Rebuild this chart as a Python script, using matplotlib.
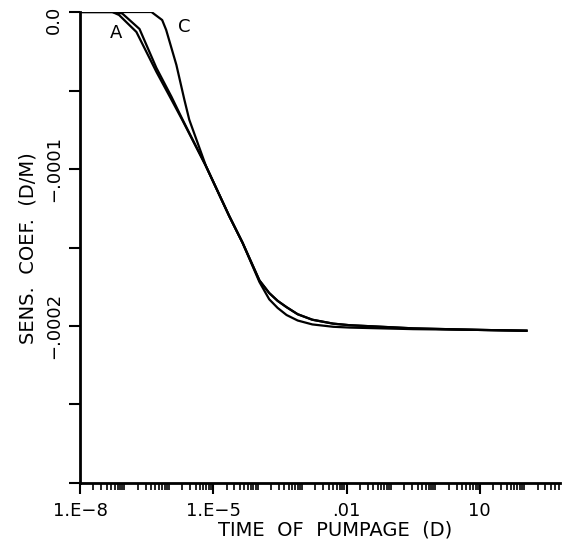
import numpy as np
import matplotlib
matplotlib.use("Agg")
import matplotlib.pyplot as plt
import matplotlib.transforms as mtransforms
from matplotlib.ticker import FixedLocator, LogLocator, NullFormatter, MultipleLocator

plt.rcParams['font.family'] = ['DejaVu Sans']

# ---- data (log10 of time in days, sensitivity coefficient in D/M) ----
a_logt = [-7.95, -7.27, -7.12, -6.73, -6.28, -5.94, -5.70, -5.16, -4.64, -4.34,
          -3.96, -3.74, -3.55, -3.35, -3.1, -2.77, -2.3, -1.93, -0.5, 1.0, 2.05]
a_sens = [0.0, 0.0, -1.9e-6, -1.27e-5, -3.81e-5, -5.59e-5, -6.86e-5, -9.84e-5, -1.30e-4, -1.47e-4,
          -1.72e-4, -1.83e-4, -1.885e-4, -1.93e-4, -1.965e-4, -1.99e-4, -2.005e-4, -2.01e-4,
          -2.02e-4, -2.025e-4, -2.03e-4]

b_logt = [-7.95, -7.27, -7.05, -6.66, -6.28, -5.94, -5.70, -5.16, -4.64, -4.34,
          -3.96, -3.74, -3.55, -3.35, -3.1, -2.77, -2.3, -1.93, -0.5, 1.0, 2.05]
b_sens = [0.0, 0.0, -0.9e-6, -1.08e-5, -3.56e-5, -5.4e-5, -6.8e-5, -9.84e-5, -1.30e-4, -1.47e-4,
          -1.71e-4, -1.79e-4, -1.84e-4, -1.88e-4, -1.925e-4, -1.96e-4, -1.985e-4, -1.995e-4,
          -2.015e-4, -2.025e-4, -2.03e-4]

c_logt = [-7.95, -6.39, -6.15, -6.06, -5.83, -5.65, -5.54, -5.16, -4.64, -4.34,
          -3.96, -3.74, -3.55, -3.35, -3.1, -2.77, -2.3, -1.93, -0.5, 1.0, 2.05]
c_sens = [0.0, 0.0, -5.1e-6, -1.14e-5, -3.37e-5, -5.59e-5, -6.86e-5, -9.84e-5, -1.30e-4, -1.47e-4,
          -1.71e-4, -1.79e-4, -1.84e-4, -1.88e-4, -1.925e-4, -1.96e-4, -1.985e-4, -1.995e-4,
          -2.015e-4, -2.025e-4, -2.03e-4]

x_ticks = [1e-8, 1e-5, 1e-2, 1e1]
x_ticklabels = ["1.E\u22128", "1.E\u22125", ".01", "10"]
y_ticks = [0.0, -1e-4, -2e-4]
y_ticklabels = ["0.0", "\u2212.0001", "\u2212.0002"]

fig = plt.figure(figsize=(5.66, 5.46), dpi=100)
ax = fig.add_axes([0.1413, 0.1154, 0.989 - 0.1413, 0.978 - 0.1154])

for lt, s in ((a_logt, a_sens), (b_logt, b_sens), (c_logt, c_sens)):
    ax.plot(10.0 ** np.array(lt), s, color='black', lw=1.6, solid_joinstyle='round')

ax.set_xscale('log')
ax.set_xlim(1e-8, 10 ** 2.8)
ax.set_ylim(-3e-4, 0.0)

ax.spines['top'].set_visible(False)
ax.spines['right'].set_visible(False)
ax.spines['left'].set_linewidth(2)
ax.spines['bottom'].set_linewidth(2)

ax.xaxis.set_major_locator(FixedLocator(x_ticks))
ax.set_xticklabels(x_ticklabels, fontsize=13)
ax.xaxis.set_minor_locator(LogLocator(base=10, subs=np.arange(1, 10), numticks=100))
ax.xaxis.set_minor_formatter(NullFormatter())
ax.tick_params(axis='x', which='major', length=8, width=1.5, pad=6)
ax.tick_params(axis='x', which='minor', length=5, width=1.2)

ax.yaxis.set_major_locator(FixedLocator(y_ticks))
ax.set_yticklabels(y_ticklabels, fontsize=13, rotation=90, va='center')
ax.yaxis.set_minor_locator(MultipleLocator(5e-5))
ax.tick_params(axis='y', which='major', length=8, width=1.5, pad=4)
ax.tick_params(axis='y', which='minor', length=8, width=1.5)

# shift the "0.0" label down a little so it sits inside the figure, as in the reference
first = ax.get_yticklabels()[0]
first.set_transform(first.get_transform() +
                    mtransforms.ScaledTranslation(0, -8 / 100, fig.dpi_scale_trans))

ax.set_xlabel("TIME  OF  PUMPAGE  (D)", fontsize=14, va='center')
ax.xaxis.set_label_coords((335 - 80) / 480, ((546 - 530) - 63) / 471)
ax.set_ylabel("SENS.  COEF.  (D/M)", fontsize=14, va='center')
ax.yaxis.set_label_coords((28 - 80) / 480, (483 - 248) / 471)

ax.text(1e-8 * 10 ** ((117 - 80.7) / 44.4), -(33 - 12) * 6.35e-7, "A", fontsize=13,
        ha='center', va='center')
ax.text(1e-8 * 10 ** ((185 - 80.7) / 44.4), -(27 - 12) * 6.35e-7, "C", fontsize=13,
        ha='center', va='center')

fig.savefig("out.png", dpi=100)
